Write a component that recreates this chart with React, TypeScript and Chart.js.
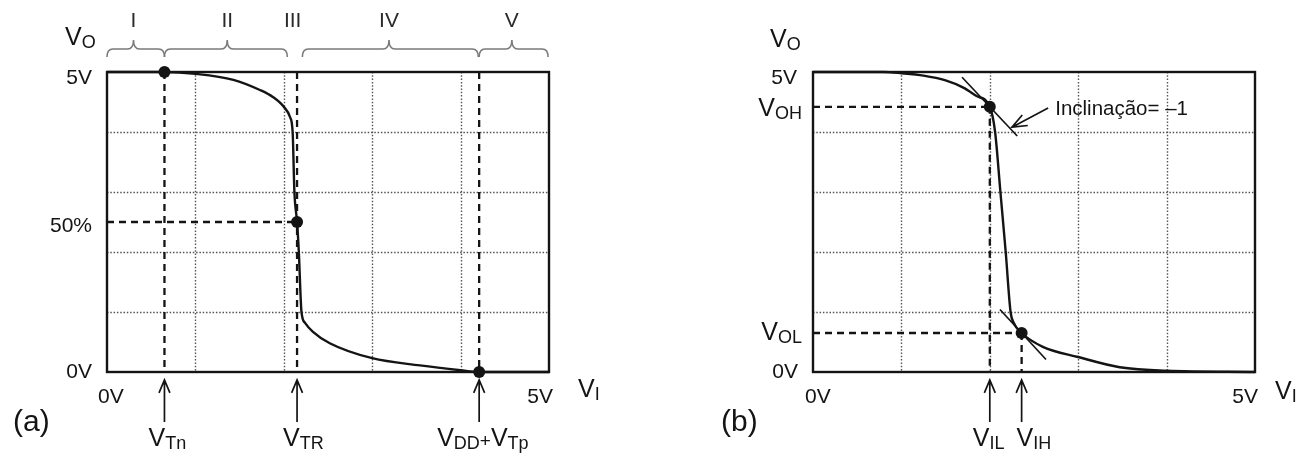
import React, { useEffect, useRef } from 'react';
import { Chart, registerables } from 'chart.js';

Chart.register(...registerables);

const FONT = '"Liberation Sans", Arial, Helvetica, sans-serif';
const INK = '#141414';

// Both panels: input and output voltage from 0 V to 5 V, grid every volt
const axisMin = 0;
const axisMax = 5;
const gridTicks = [1, 2, 3, 4];

// ---- (a) CMOS inverter transfer characteristic with operating regions ----
const vinA = [0, 0.65, 1.0, 1.43, 1.73, 1.88, 2.0, 2.07, 2.1, 2.12, 2.15, 2.17, 2.2, 2.24, 2.33, 2.52, 3.0, 3.54, 4.0, 4.21, 5];
const voutA = [5, 5, 4.97, 4.87, 4.7, 4.58, 4.42, 4.25, 4.0, 3.0, 2.5, 2.0, 1.0, 0.82, 0.67, 0.48, 0.23, 0.11, 0.03, 0, 0];
const vTn = 0.65;
const vTR = 2.15;
const vDDplusTp = 4.21;
const halfSwing = 2.5;
const markAx = [vTn, vTR, vDDplusTp];
const markAy = [5, halfSwing, 0];
const regionNames = ['I', 'II', 'III', 'IV', 'V'];
const regionStart = [0, 0.65, NaN, 2.21, 4.21];
const regionEnd = [0.65, 2.04, NaN, 4.2, 4.99];
const regionMid = [0.3, 1.36, 2.1, 3.19, 4.58];
const yTickValsA = [5, halfSwing, 0];
const yTickTextA = ['5V', '50%', '0V'];
const xTickText = ['0V', '5V'];

// ---- (b) noise-margin points defined by the unity-slope tangents ----
const vinB = [0, 0.8, 1.0, 1.25, 1.5, 1.7, 1.85, 2.0, 2.06, 2.12, 2.18, 2.235, 2.27, 2.36, 2.6, 3.0, 3.47, 4.0, 5];
const voutB = [5, 5, 4.98, 4.94, 4.86, 4.74, 4.6, 4.42, 4.0, 3.0, 2.0, 1.0, 0.82, 0.65, 0.42, 0.25, 0.08, 0.02, 0];
const vOH = 4.42;
const vIL = 2.0;
const vOL = 0.65;
const vIH = 2.36;
const markBx = [vIL, vIH];
const markBy = [vOH, vOL];
const tangentHighX = [1.686, 2.31];
const tangentHighY = [4.913, 3.933];
const tangentLowX = [2.115, 2.636];
const tangentLowY = [1.042, 0.208];
const slopeText = 'Inclinação= –1';
const slopeArrowFrom = { x: 2.66, y: 4.4 };
const slopeArrowTo = { x: 2.25, y: 4.08 };
const slopeTextAt = { x: 2.74, y: 4.4 };

type Seg = [string, number];
const SEG_FONT = [`25px ${FONT}`, `18px ${FONT}`, `19px ${FONT}`];
const SEG_DY = [0, 3, 1];

function segWidth(ctx: CanvasRenderingContext2D, segs: Seg[]) {
  let w = 0;
  for (const [t, k] of segs) {
    ctx.font = SEG_FONT[k];
    w += ctx.measureText(t).width;
  }
  return w;
}

function drawSegs(ctx: CanvasRenderingContext2D, segs: Seg[], x: number, baseline: number, align: 'left' | 'right' = 'left') {
  let cx = align === 'right' ? x - segWidth(ctx, segs) : x;
  ctx.textAlign = 'left';
  ctx.textBaseline = 'alphabetic';
  for (const [t, k] of segs) {
    ctx.font = SEG_FONT[k];
    ctx.fillText(t, cx, baseline + SEG_DY[k]);
    cx += ctx.measureText(t).width;
  }
}

function plainText(ctx: CanvasRenderingContext2D, t: string, x: number, baseline: number, align: CanvasTextAlign, size = 21) {
  ctx.font = `${size}px ${FONT}`;
  ctx.textAlign = align;
  ctx.textBaseline = 'alphabetic';
  ctx.fillText(t, x, baseline);
}

function drawFrame(chart: any) {
  const { ctx, chartArea: a, scales } = chart;
  const xs = scales.x;
  const ys = scales.y;
  ctx.save();
  ctx.strokeStyle = '#555555';
  ctx.lineWidth = 1.4;
  ctx.setLineDash([1.5, 1.8]);
  for (const v of gridTicks) {
    const px = Math.round(xs.getPixelForValue(v)) + 0.5;
    ctx.beginPath();
    ctx.moveTo(px, a.top);
    ctx.lineTo(px, a.bottom);
    ctx.stroke();
    const py = Math.round(ys.getPixelForValue(v)) + 0.5;
    ctx.beginPath();
    ctx.moveTo(a.left, py);
    ctx.lineTo(a.right, py);
    ctx.stroke();
  }
  ctx.setLineDash([]);
  ctx.strokeStyle = INK;
  ctx.lineWidth = 2.4;
  ctx.strokeRect(a.left, a.top, a.right - a.left, a.bottom - a.top);
  ctx.restore();
}

function arrowLine(ctx: CanvasRenderingContext2D, x1: number, y1: number, x2: number, y2: number, head = 13, spread = 0.43) {
  const ang = Math.atan2(y2 - y1, x2 - x1);
  ctx.beginPath();
  ctx.moveTo(x1, y1);
  ctx.lineTo(x2, y2);
  ctx.moveTo(x2 - head * Math.cos(ang - spread), y2 - head * Math.sin(ang - spread));
  ctx.lineTo(x2, y2);
  ctx.lineTo(x2 - head * Math.cos(ang + spread), y2 - head * Math.sin(ang + spread));
  ctx.stroke();
}

function brace(ctx: CanvasRenderingContext2D, x1: number, x2: number, xt: number, yEnd: number, yMid: number, yTip: number) {
  const r = 6;
  ctx.beginPath();
  ctx.moveTo(x1, yEnd);
  ctx.quadraticCurveTo(x1, yMid, x1 + r, yMid);
  ctx.lineTo(xt - r, yMid);
  ctx.quadraticCurveTo(xt, yMid, xt, yTip);
  ctx.quadraticCurveTo(xt, yMid, xt + r, yMid);
  ctx.lineTo(x2 - r, yMid);
  ctx.quadraticCurveTo(x2, yMid, x2, yEnd);
  ctx.stroke();
}

const ARROW_TIP = 380;
const ARROW_TAIL = 422;
const LABEL_BASE = 446;

const decorA = {
  id: 'decorA',
  beforeDatasetsDraw(chart: any) {
    drawFrame(chart);
  },
  afterDatasetsDraw(chart: any) {
    const { ctx, chartArea: a, scales } = chart;
    const xs = scales.x;
    const ys = scales.y;
    ctx.save();

    // operating regions along the top
    ctx.strokeStyle = '#7a7a7a';
    ctx.lineWidth = 1.6;
    regionNames.forEach((name, i) => {
      const mid = xs.getPixelForValue(regionMid[i]);
      if (!Number.isNaN(regionStart[i])) {
        brace(ctx, xs.getPixelForValue(regionStart[i]), xs.getPixelForValue(regionEnd[i]), mid, 57, 49, 40);
      }
      ctx.fillStyle = '#2a2a2a';
      plainText(ctx, name, mid, 27, 'center', 21);
    });

    ctx.fillStyle = INK;
    ctx.strokeStyle = INK;
    // vertical axis ticks
    const yOff = [12, 10, 6];
    yTickValsA.forEach((v, i) => {
      plainText(ctx, yTickTextA[i], a.left - 15, ys.getPixelForValue(v) + yOff[i], 'right');
    });
    // horizontal axis ticks
    plainText(ctx, xTickText[0], a.left - 9, 403, 'left');
    plainText(ctx, xTickText[1], a.right + 4, 403, 'right');
    drawSegs(ctx, [['V', 0], ['O', 1]], a.left - 42, 45);
    drawSegs(ctx, [['V', 0], ['I', 1]], a.right + 29, 397);
    plainText(ctx, '(a)', a.left - 94, 431, 'left', 30);

    // threshold arrows
    ctx.lineWidth = 1.7;
    const arrows: [number, Seg[], number][] = [
      [vTn, [['V', 0], ['Tn', 1]], -16],
      [vTR, [['V', 0], ['TR', 1]], -14],
      [vDDplusTp, [['V', 0], ['DD', 1], ['+', 2], ['V', 0], ['Tp', 1]], -42],
    ];
    for (const [v, segs, off] of arrows) {
      const px = xs.getPixelForValue(v);
      arrowLine(ctx, px, ARROW_TAIL, px, ARROW_TIP, 14, 0.4);
      drawSegs(ctx, segs, px + off, LABEL_BASE);
    }
    ctx.restore();
  },
};

const decorB = {
  id: 'decorB',
  beforeDatasetsDraw(chart: any) {
    drawFrame(chart);
  },
  afterDatasetsDraw(chart: any) {
    const { ctx, chartArea: a, scales } = chart;
    const xs = scales.x;
    const ys = scales.y;
    ctx.save();
    ctx.fillStyle = INK;
    ctx.strokeStyle = INK;

    plainText(ctx, '5V', a.left - 16, ys.getPixelForValue(5) + 12, 'right');
    plainText(ctx, '0V', a.left - 15, ys.getPixelForValue(0) + 6, 'right');
    drawSegs(ctx, [['V', 0], ['OH', 1]], a.left - 11, ys.getPixelForValue(vOH) + 9, 'right');
    drawSegs(ctx, [['V', 0], ['OL', 1]], a.left - 11, ys.getPixelForValue(vOL) + 7, 'right');
    plainText(ctx, xTickText[0], a.left - 8, 403, 'left');
    plainText(ctx, xTickText[1], a.right + 3, 403, 'right');
    drawSegs(ctx, [['V', 0], ['O', 1]], a.left - 43, 47);
    drawSegs(ctx, [['V', 0], ['I', 1]], a.right + 20, 399);
    plainText(ctx, '(b)', a.left - 92, 431, 'left', 30);

    ctx.lineWidth = 1.7;
    const arrows: [number, Seg[], number][] = [
      [vIL, [['V', 0], ['IL', 1]], -17],
      [vIH, [['V', 0], ['IH', 1]], -5],
    ];
    for (const [v, segs, off] of arrows) {
      const px = xs.getPixelForValue(v);
      arrowLine(ctx, px, ARROW_TAIL, px, ARROW_TIP, 14, 0.4);
      drawSegs(ctx, segs, px + off, LABEL_BASE);
    }

    // slope annotation
    ctx.lineWidth = 1.7;
    arrowLine(
      ctx,
      xs.getPixelForValue(slopeArrowFrom.x), ys.getPixelForValue(slopeArrowFrom.y),
      xs.getPixelForValue(slopeArrowTo.x), ys.getPixelForValue(slopeArrowTo.y),
      16, 0.38,
    );
    ctx.font = `20.5px ${FONT}`;
    ctx.textAlign = 'left';
    ctx.textBaseline = 'middle';
    ctx.fillText(slopeText, xs.getPixelForValue(slopeTextAt.x), ys.getPixelForValue(slopeTextAt.y) + 1);
    ctx.restore();
  },
};

function pts(xs: number[], ys: number[]) {
  return xs.map((x, i) => ({ x, y: ys[i] }));
}

function lineDs(xs: number[], ys: number[], extra: any = {}) {
  return {
    data: pts(xs, ys),
    showLine: true,
    pointRadius: 0,
    borderColor: INK,
    borderWidth: 2.4,
    fill: false,
    clip: false,
    ...extra,
  };
}

function dotDs(xs: number[], ys: number[]) {
  return {
    data: pts(xs, ys),
    showLine: false,
    pointRadius: 6,
    pointBackgroundColor: INK,
    pointBorderColor: INK,
    pointBorderWidth: 0,
    clip: false,
  };
}

const DASH = { borderDash: [7, 5], borderWidth: 2.3 };

function makeConfig(datasets: any[], padding: any, plugin: any) {
  return {
    type: 'line' as const,
    data: { datasets },
    options: {
      responsive: false,
      animation: false as const,
      events: [],
      layout: { padding },
      plugins: { legend: { display: false }, tooltip: { enabled: false } },
      scales: {
        x: { type: 'linear' as const, min: axisMin, max: axisMax, display: false },
        y: { type: 'linear' as const, min: axisMin, max: axisMax, display: false },
      },
    },
    plugins: [plugin],
  };
}

function configA() {
  return makeConfig(
    [
      dotDs(markAx, markAy),
      lineDs(vinA, voutA, { cubicInterpolationMode: 'monotone' }),
      lineDs([vTn, vTn], [5, 0], DASH),
      lineDs([vTR, vTR], [5, 0], DASH),
      lineDs([0, vTR], [halfSwing, halfSwing], DASH),
      lineDs([vDDplusTp, vDDplusTp], [5, 0], DASH),
    ],
    { left: 107, right: 102, top: 72, bottom: 85 },
    decorA,
  );
}

function configB() {
  return makeConfig(
    [
      dotDs(markBx, markBy),
      lineDs(vinB, voutB, { cubicInterpolationMode: 'monotone' }),
      lineDs(tangentHighX, tangentHighY, { borderWidth: 1.7 }),
      lineDs(tangentLowX, tangentLowY, { borderWidth: 1.7 }),
      lineDs([0, vIL], [vOH, vOH], DASH),
      lineDs([vIL, vIL], [vOH, 0], DASH),
      lineDs([0, vIH], [vOL, vOL], DASH),
      lineDs([vIH, vIH], [vOL, 0], DASH),
    ],
    { left: 162, right: 47, top: 72, bottom: 85 },
    decorB,
  );
}

function Panel({ left, build }: { left: number; build: () => any }) {
  const ref = useRef<HTMLCanvasElement>(null);
  useEffect(() => {
    const chart = new Chart(ref.current as HTMLCanvasElement, build());
    return () => chart.destroy();
  }, [build]);
  return (
    <div style={{ position: 'absolute', left, top: 0, width: 651, height: 457 }}>
      <canvas ref={ref} width={651} height={457} style={{ display: 'block', width: 651, height: 457 }} />
    </div>
  );
}

export default function App() {
  return (
    <div style={{ position: 'fixed', left: 0, top: 0, width: 1302, height: 457, background: '#fff', overflow: 'hidden' }}>
      <Panel left={0} build={configA} />
      <Panel left={651} build={configB} />
    </div>
  );
}
